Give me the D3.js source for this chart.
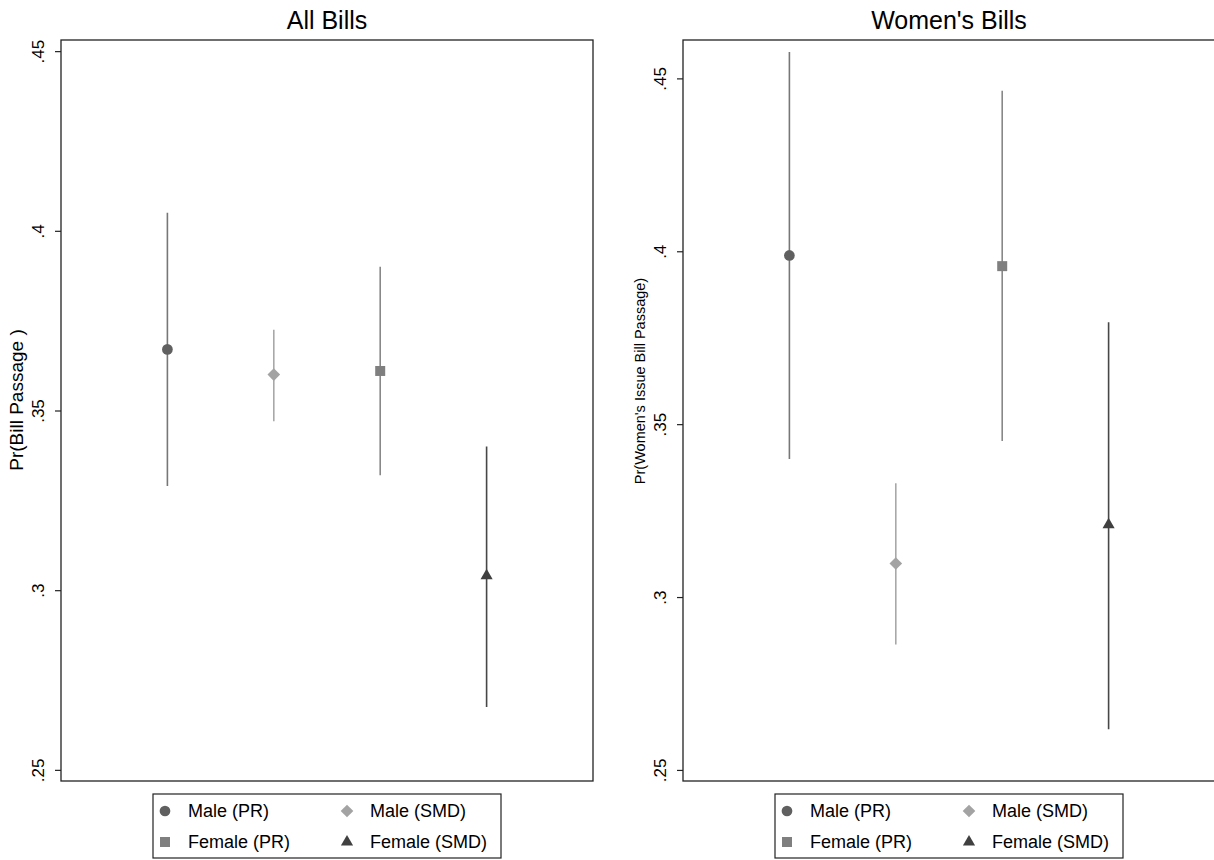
<!DOCTYPE html>
<html>
<head>
  <meta charset="utf-8">
  <style>
    body { margin: 0; background: #fff; }
    svg { display: block; font-family: "Liberation Sans", Arial, sans-serif; }
    .tick line { stroke: #222; stroke-width: 1.2; }
  </style>
</head>
<body>
  <svg id="chart" width="1214" height="860"></svg>

  <script src="https://d3js.org/d3.v7.min.js"></script>
  <script>
    // categories (same order in both panels)
    const groups = ["Male (PR)", "Male (SMD)", "Female (PR)", "Female (SMD)"];

    // All Bills: point estimate and CI ends
    const allEst = [0.367, 0.360, 0.361, 0.304];
    const allLo = [0.329, 0.347, 0.332, 0.2675];
    const allHi = [0.405, 0.3725, 0.390, 0.340];

    // Women's Bills
    const womenEst = [0.3988, 0.3097, 0.3957, 0.3209];
    const womenLo = [0.3399, 0.2863, 0.3451, 0.2618];
    const womenHi = [0.4576, 0.3329, 0.4464, 0.3795];

    const yTicks = [0.25, 0.3, 0.35, 0.4, 0.45];
    const yTickLabels = [".25", ".3", ".35", ".4", ".45"];

    // marker look per group
    const markerFill = ["#606060", "#a3a3a3", "#7f7f7f", "#404040"];
    const lineColor = ["#777777", "#a8a8a8", "#888888", "#474747"];
    const markerType = [
      d3.symbol().type(d3.symbolCircle).size(90),
      d3.symbol().type(d3.symbolSquare).size(80),
      d3.symbol().type(d3.symbolSquare).size(100),
      d3.symbol().type(d3.symbolTriangle).size(64)
    ];
    const markerRot = [0, 45, 0, 0];

    const svg = d3.select("#chart");

    function drawPanel(opt) {
      let g = svg.append("g");

      let x = d3.scaleLinear().domain([0, 5]).range([opt.left, opt.left + 532]);
      let y = d3.scaleLinear().domain(opt.yDomain).range([781, 40]);

      // title
      g.append("text")
        .attr("x", opt.left + 266)
        .attr("y", 29)
        .attr("text-anchor", "middle")
        .style("font-size", "25px")
        .text(opt.title);

      // y axis
      let ax = g.append("g")
        .attr("transform", "translate(" + opt.left + ",0)")
        .call(d3.axisLeft(y)
          .tickValues(yTicks)
          .tickSize(6)
          .tickFormat((d, i) => yTickLabels[i]));
      ax.select(".domain").remove();
      ax.selectAll("text")
        .attr("transform", "rotate(-90)")
        .attr("x", 0)
        .attr("y", -17)
        .attr("dy", 0)
        .attr("text-anchor", "middle")
        .style("font-size", "17px")
        .style("fill", "#000")
        .style("font-family", "Liberation Sans, Arial, sans-serif");

      // y axis title
      g.append("text")
        .attr("transform", "translate(" + (opt.left - 38) + "," + opt.labelY + ")rotate(-90)")
        .attr("text-anchor", "middle")
        .style("font-size", opt.labelSize + "px")
        .text(opt.yLabel);

      // error bars
      g.selectAll(".ci")
        .data(groups)
        .join("line")
        .attr("class", "ci")
        .attr("x1", (d, i) => x(i + 1))
        .attr("x2", (d, i) => x(i + 1))
        .attr("y1", (d, i) => y(opt.lo[i]))
        .attr("y2", (d, i) => y(opt.hi[i]))
        .attr("stroke", (d, i) => lineColor[i])
        .attr("stroke-width", 1.6);

      // point estimates
      g.selectAll(".pt")
        .data(groups)
        .join("path")
        .attr("class", "pt")
        .attr("d", (d, i) => markerType[i]())
        .attr("transform", (d, i) => "translate(" + x(i + 1) + "," + y(opt.est[i]) + ")rotate(" + markerRot[i] + ")")
        .attr("fill", (d, i) => markerFill[i]);

      // plot frame
      g.append("rect")
        .attr("x", opt.left)
        .attr("y", 40)
        .attr("width", opt.frameW)
        .attr("height", 741)
        .attr("fill", "none")
        .attr("stroke", "#222")
        .attr("stroke-width", 1.3);

      // legend
      let lx = opt.left + 92;
      let lg = g.append("g").attr("transform", "translate(" + lx + ",794)");
      lg.append("rect")
        .attr("width", 348)
        .attr("height", 64)
        .attr("fill", "#fff")
        .attr("stroke", "#222")
        .attr("stroke-width", 1.2);

      let item = lg.selectAll(".item")
        .data(groups)
        .join("g")
        .attr("class", "item")
        .attr("transform", (d, i) => "translate(" + (12 + (i % 2) * 182) + "," + (17 + Math.floor(i / 2) * 31) + ")");

      item.append("path")
        .attr("d", (d, i) => markerType[i]())
        .attr("transform", (d, i) => "rotate(" + markerRot[i] + ")")
        .attr("fill", (d, i) => markerFill[i]);

      item.append("text")
        .attr("x", 23)
        .attr("y", 6)
        .style("font-size", "18px")
        .text(d => d);
    }

    drawPanel({
      left: 61,
      frameW: 532,
      title: "All Bills",
      yLabel: "Pr(Bill Passage )",
      labelSize: 19,
      labelY: 400,
      yDomain: [0.2469, 0.4531],
      est: allEst, lo: allLo, hi: allHi
    });

    drawPanel({
      left: 683,
      frameW: 540,
      title: "Women's Bills",
      yLabel: "Pr(Women's Issue Bill Passage)",
      labelSize: 14.5,
      labelY: 381,
      yDomain: [0.2468, 0.4611],
      est: womenEst, lo: womenLo, hi: womenHi
    });
  </script>
</body>
</html>
